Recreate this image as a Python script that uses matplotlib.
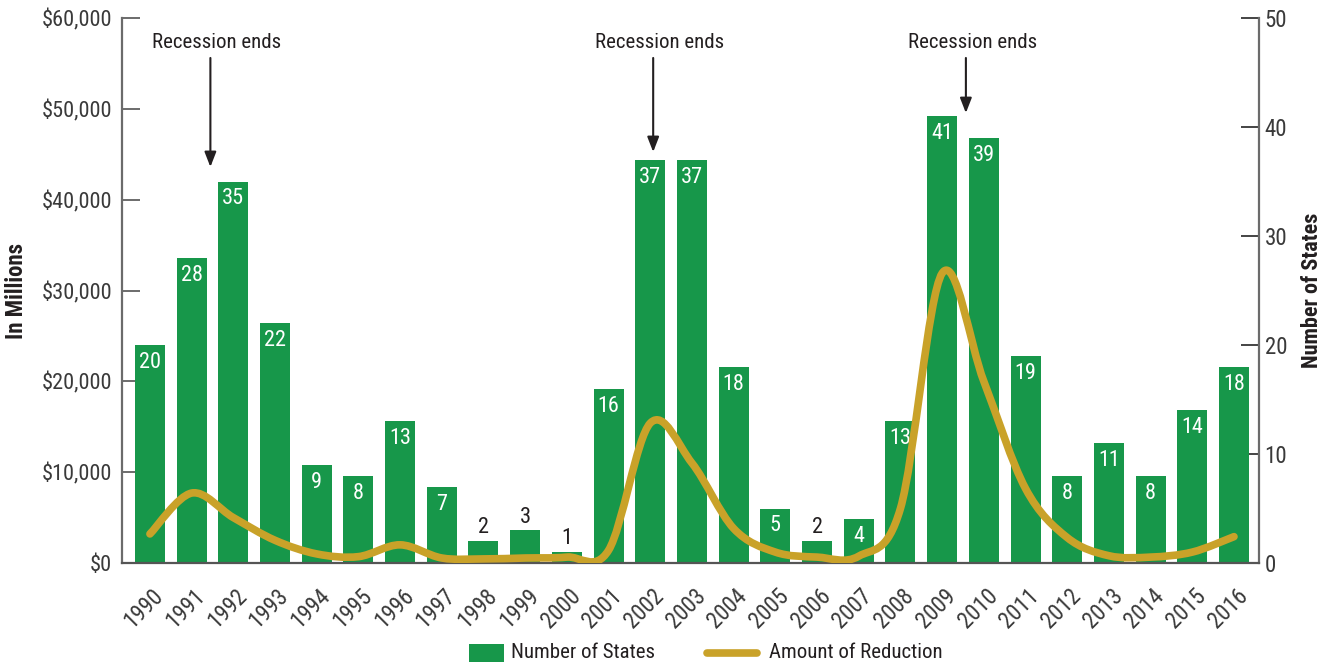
import matplotlib
matplotlib.use("Agg")
import matplotlib.pyplot as plt
from matplotlib import font_manager as fm
from matplotlib.path import Path
from matplotlib.patches import PathPatch, Rectangle
from matplotlib.lines import Line2D
from matplotlib.ticker import FuncFormatter
from matplotlib.transforms import ScaledTranslation
import numpy as np


def first_installed(names):
    for n in names:
        try:
            fm.findfont(fm.FontProperties(family=n), fallback_to_default=False)
            return n
        except Exception:
            continue
    return None


narrow = first_installed(['Liberation Sans Narrow', 'Arial Narrow',
                          'Roboto Condensed', 'DejaVu Sans Condensed',
                          'Open Sans Condensed', 'Noto Sans Condensed'])
base = narrow or 'Roboto'
plt.rcParams['font.family'] = [base, 'DejaVu Sans']
SCALE = 1.0 if narrow else 0.9

# ---- data -------------------------------------------------------------
years = list(range(1990, 2017))
num_states = [20, 28, 35, 22, 9, 8, 13, 7, 2, 3, 1, 16, 37, 37, 18, 5, 2, 4,
              13, 41, 39, 19, 8, 11, 8, 14, 18]
# amount of reduction, $ millions
reduction = [3200, 7700, 5000, 2500, 1000, 700, 2000, 550, 450, 550, 650, 1400,
             15400, 11000, 3800, 1200, 650, 750, 6000, 31900, 20000, 8200,
             2800, 800, 650, 1200, 2900]
recession_ends = [1991.45, 2002.07, 2009.57]
recession_tips = [43600, 45250, 49540]

left_ticks = [0, 10000, 20000, 30000, 40000, 50000, 60000]
right_ticks = [0, 10, 20, 30, 40, 50]

BAR_GREEN = '#17974A'
LINE_GOLD = '#C9A229'
TEXT_DARK = '#231F20'
TICK_GRAY = '#3A3A3A'
SPINE_GRAY = '#6B6B6B'

fig = plt.figure(figsize=(13.31, 6.68), dpi=100)
ax = fig.add_axes([122 / 1331, 105 / 668, 1137 / 1331, 545 / 668])
ax_r = ax.twinx()      # bars, right-hand scale
ax_l = ax.twinx()      # smoothed reduction line, left-hand scale

for a in (ax, ax_r, ax_l):
    a.set_xlim(1989.33, 2016.6)
    a.patch.set_visible(False)
    for s in a.spines.values():
        s.set_visible(False)

ax.set_ylim(0, 60000)
ax_l.set_ylim(0, 60000)
ax_r.set_ylim(0, 50)

# spines
ax.spines['left'].set_visible(True)
ax.spines['left'].set_color(SPINE_GRAY)
ax.spines['left'].set_linewidth(1.6)
ax_r.spines['right'].set_visible(True)
ax_r.spines['right'].set_color(SPINE_GRAY)
ax_r.spines['right'].set_linewidth(1.6)
ax_r.spines['bottom'].set_visible(True)
ax_r.spines['bottom'].set_color('#555555')
ax_r.spines['bottom'].set_linewidth(1.6)

# left axis ticks ($)
ax.set_yticks(left_ticks)
ax.yaxis.set_major_formatter(FuncFormatter(lambda v, p: f'${v:,.0f}'))
ax.tick_params(axis='y', direction='in', length=13, width=1.4, color=SPINE_GRAY,
               labelsize=16 * SCALE, labelcolor=TICK_GRAY, pad=7)
ax.set_ylabel('In Millions', fontsize=16.5 * SCALE, fontweight='bold',
              color=TEXT_DARK, labelpad=10)

# right axis ticks (states)
ax_r.set_yticks(right_ticks)
ax_r.tick_params(axis='y', direction='in', length=13, width=1.4, color='#444444',
                 labelsize=16.5 * SCALE, labelcolor=TICK_GRAY, pad=4)
ax_r.set_ylabel('Number of States', fontsize=16 * SCALE, fontweight='bold',
                color=TEXT_DARK, labelpad=10)

# x axis: rotated year labels (drawn by the host axes)
ax_l.set_yticks([])
ax.set_xticks(years)
ax.set_xticklabels([str(y) for y in years], rotation=45, ha='right',
                   va='center', rotation_mode='anchor')
ax.tick_params(axis='x', length=0, labelsize=16.5 * SCALE, labelcolor=TICK_GRAY,
               pad=21)
shift = ScaledTranslation(0.1, 0, fig.dpi_scale_trans)
for lbl in ax.get_xticklabels():
    lbl.set_transform(lbl.get_transform() + shift)

# bars
bars = ax_r.bar(years, num_states, width=0.72, color=BAR_GREEN, zorder=2)
for b, v in zip(bars, num_states):
    cx = b.get_x() + b.get_width() / 2
    if v <= 3:
        ax_r.annotate(str(v), (cx, v), xytext=(0, 2), textcoords='offset points',
                      ha='center', va='bottom', fontsize=16 * SCALE,
                      color=TEXT_DARK)
    else:
        ax_r.annotate(str(v), (cx, v), xytext=(0, -5), textcoords='offset points',
                      ha='center', va='top', fontsize=16 * SCALE, color='white')

# smoothed line (Catmull-Rom through each year's value, cubic Bezier segments)
pts = np.column_stack([years, reduction]).astype(float)
ext = np.vstack([pts[0], pts, pts[-1]])
verts = [tuple(pts[0])]
codes = [Path.MOVETO]
for i in range(1, len(ext) - 2):
    p0, p1, p2, p3 = ext[i - 1], ext[i], ext[i + 1], ext[i + 2]
    c1 = p1 + (p2 - p0) / 6.0
    c2 = p2 - (p3 - p1) / 6.0
    verts += [tuple(c1), tuple(c2), tuple(p2)]
    codes += [Path.CURVE4] * 3
curve = PathPatch(Path(verts, codes), facecolor='none', edgecolor=LINE_GOLD,
                  lw=5.5, capstyle='round', joinstyle='round', zorder=3)
ax_l.add_patch(curve)

# recession annotations
for x, tip in zip(recession_ends, recession_tips):
    ax_l.annotate('', xy=(x, tip), xytext=(x, 55600),
                  arrowprops=dict(arrowstyle='-|>,head_length=0.9,head_width=0.35',
                                  color=TEXT_DARK, lw=1.5, shrinkA=0, shrinkB=0))
    ax_l.text(x + 0.15, 57350, 'Recession ends', ha='center', va='center',
              fontsize=15 * SCALE, color=TEXT_DARK)

# legend drawn in figure coordinates
W, H = 1331.0, 668.0
fig.patches.append(Rectangle((469 / W, (668 - 662) / H), 35 / W, 18 / H,
                             transform=fig.transFigure, facecolor=BAR_GREEN,
                             edgecolor='none'))
fig.text(511 / W, (668 - 653) / H, 'Number of States', fontsize=15 * SCALE,
         color=TEXT_DARK, ha='left', va='center')
fig.lines.append(Line2D([707 / W, 757 / W], [(668 - 653) / H] * 2,
                        transform=fig.transFigure, color=LINE_GOLD, lw=5.5,
                        solid_capstyle='round'))
fig.text(769 / W, (668 - 653) / H, 'Amount of Reduction', fontsize=15 * SCALE,
         color=TEXT_DARK, ha='left', va='center')

fig.savefig('out.png', dpi=100)
